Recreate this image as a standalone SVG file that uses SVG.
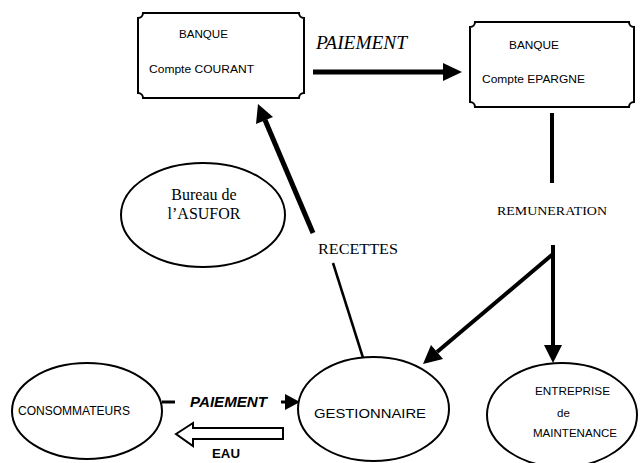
<svg xmlns="http://www.w3.org/2000/svg" width="641" height="463" viewBox="0 0 641 463">
<style>
.box{fill:#fff;stroke:#000;stroke-width:2}
.ell{fill:#fff;stroke:#000;stroke-width:2}
.sans{font-family:"Liberation Sans",Arial,sans-serif;fill:#000}
.serif{font-family:"Liberation Serif","Times New Roman",serif;fill:#000}
.ln{stroke:#000;fill:none}
</style>
<rect width="641" height="463" fill="#fff"/>
<g id="connectors">
  <line class="ln" x1="313" y1="72" x2="445" y2="72" stroke-width="5"/>
  <polygon points="443,63 462,72 443,81"/>
  <line class="ln" x1="552" y1="113" x2="552" y2="183" stroke-width="4"/>
  <line class="ln" x1="553" y1="245" x2="553" y2="348" stroke-width="4"/>
  <polygon points="544,345 562,345 553,363"/>
  <line class="ln" x1="553" y1="254" x2="437" y2="352" stroke-width="4"/>
  <polygon points="423,364 431,345 443,359"/>
  <line class="ln" x1="313" y1="233" x2="265" y2="120" stroke-width="5"/>
  <polygon points="258,104 256,124 273,117"/>
  <line class="ln" x1="333" y1="263" x2="371" y2="383" stroke-width="2.5"/>
  <line class="ln" x1="162" y1="402" x2="175" y2="402" stroke-width="3"/>
  <line class="ln" x1="281" y1="402" x2="287" y2="402" stroke-width="3"/>
  <polygon points="285,394 300,402 285,410"/>
  <polygon points="176,434 193,423 193,428 283,428 283,439 193,439 193,446" fill="#fff" stroke="#000" stroke-width="2"/>
  <text class="serif" x="316" y="49" font-size="18" font-style="italic" textLength="91" lengthAdjust="spacingAndGlyphs">PAIEMENT</text>
  <text class="serif" x="497" y="215" font-size="13" textLength="110" lengthAdjust="spacingAndGlyphs">REMUNERATION</text>
  <text class="serif" x="318" y="254" font-size="15.5" textLength="80" lengthAdjust="spacingAndGlyphs">RECETTES</text>
  <text class="sans" x="190" y="407" font-size="14" font-weight="bold" font-style="italic" textLength="77" lengthAdjust="spacingAndGlyphs">PAIEMENT</text>
  <text class="sans" x="212" y="458" font-size="13.5" font-weight="bold" textLength="28" lengthAdjust="spacingAndGlyphs">EAU</text>
</g>
<g id="courant">
  <path class="box" d="M143,13 H299 A5,5 0 0 0 304,18 V93 A5,5 0 0 0 299,98 H143 A5,5 0 0 0 138,93 V18 A5,5 0 0 0 143,13 Z"/>
  <text class="sans" x="179" y="38" font-size="11.5" textLength="49" lengthAdjust="spacingAndGlyphs">BANQUE</text>
  <text class="sans" x="149" y="73" font-size="11.5" textLength="105" lengthAdjust="spacingAndGlyphs">Compte COURANT</text>
</g>
<g id="epargne">
  <path class="box" d="M475,22 H629 A5,5 0 0 0 634,27 V102 A5,5 0 0 0 629,107 H475 A5,5 0 0 0 470,102 V27 A5,5 0 0 0 475,22 Z"/>
  <text class="sans" x="509" y="49" font-size="11.5" textLength="50" lengthAdjust="spacingAndGlyphs">BANQUE</text>
  <text class="sans" x="482" y="83" font-size="11.5" textLength="103" lengthAdjust="spacingAndGlyphs">Compte EPARGNE</text>
</g>
<g id="asufor">
  <ellipse class="ell" cx="203" cy="215" rx="82" ry="52"/>
  <text class="serif" x="204" y="200" font-size="16" text-anchor="middle">Bureau de</text>
  <text class="serif" x="204" y="219" font-size="16" text-anchor="middle">l’ASUFOR</text>
</g>
<g id="consommateurs">
  <ellipse class="ell" cx="87" cy="411" rx="75" ry="48"/>
  <text class="sans" x="18" y="415" font-size="12" textLength="112" lengthAdjust="spacingAndGlyphs">CONSOMMATEURS</text>
</g>
<g id="gestionnaire">
  <ellipse class="ell" cx="373.5" cy="409" rx="75.5" ry="52"/>
  <text class="sans" x="314" y="418" font-size="13.5" textLength="112" lengthAdjust="spacingAndGlyphs">GESTIONNAIRE</text>
</g>
<g id="entreprise">
  <ellipse class="ell" cx="562" cy="415" rx="75" ry="52"/>
  <text class="sans" x="535" y="395" font-size="11.5" textLength="75" lengthAdjust="spacingAndGlyphs">ENTREPRISE</text>
  <text class="sans" x="557" y="417" font-size="11.5">de</text>
  <text class="sans" x="533" y="437" font-size="11.5" textLength="84" lengthAdjust="spacingAndGlyphs">MAINTENANCE</text>
</g>
</svg>
